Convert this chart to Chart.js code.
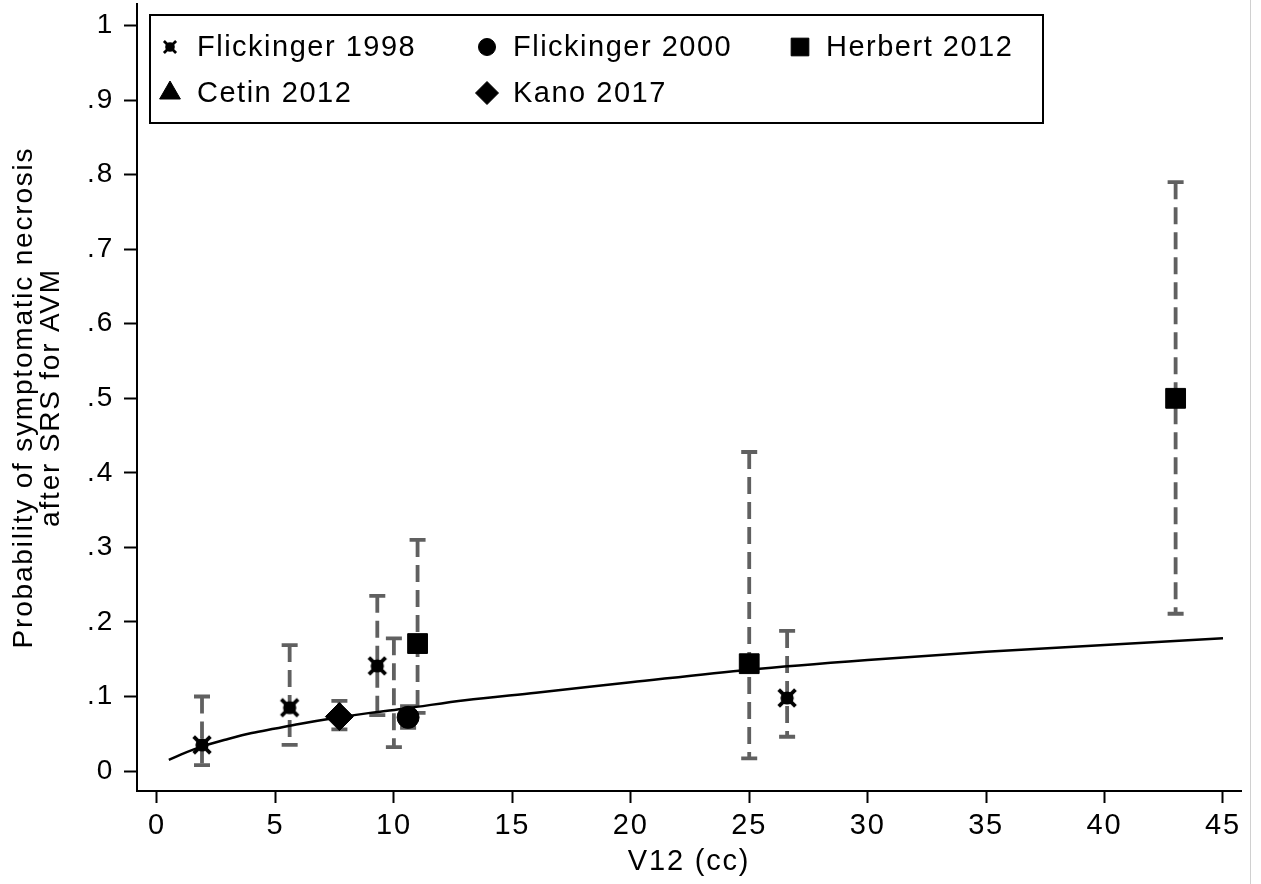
<!DOCTYPE html>
<html lang="en">
<head>
  <meta charset="UTF-8">
  <title>Symptomatic necrosis vs V12</title>
  <style>
    body { margin: 0; background: #fff; }
    .wrap { position: relative; width: 1261px; height: 884px; }
    .edge { position: absolute; left: 1250px; top: 0; width: 1px; height: 884px; background: #d0d0d0; }
  </style>
</head>
<body>
  <div class="wrap">
    <canvas id="chart" width="1261" height="884"></canvas>
    <div class="edge"></div>
  </div>

  <script src="https://cdn.jsdelivr.net/npm/chart.js"></script>
  <script>
    // series: V12 (cc), probability, CI low / high
    const seriesNames = ["Flickinger 1998", "Flickinger 2000", "Herbert 2012", "Cetin 2012", "Kano 2017"];

    const flick1998X = [1.9, 5.6, 9.3, 26.6];
    const flick1998Y = [0.035, 0.085, 0.141, 0.098];
    const flick1998Lo = [0.008, 0.035, 0.075, 0.046];
    const flick1998Hi = [0.100, 0.169, 0.235, 0.188];

    const flick2000X = [10.6];
    const flick2000Y = [0.072];
    const flick2000Lo = [0.058];
    const flick2000Hi = [0.087];

    const herbertX = [11.0, 25.0, 43.0];
    const herbertY = [0.171, 0.144, 0.500];
    const herbertLo = [0.078, 0.017, 0.211];
    const herbertHi = [0.310, 0.428, 0.790];

    const cetinX = [10.0];
    const cetinY = [0.080];
    const cetinLo = [0.032];
    const cetinHi = [0.178];

    const kanoX = [7.7];
    const kanoY = [0.073];
    const kanoLo = [0.056];
    const kanoHi = [0.094];

    // fitted curve
    const fitX = [0.5, 1, 2, 3, 4, 5, 6, 7.5, 9, 10.5, 13, 16, 20, 25, 30, 35, 40, 45];
    const fitY = [0.015, 0.022, 0.034, 0.043, 0.051, 0.057, 0.063, 0.071, 0.078, 0.084, 0.095, 0.105, 0.119, 0.136, 0.149, 0.160, 0.169, 0.178];

    const xTicks = [0, 5, 10, 15, 20, 25, 30, 35, 40, 45];
    const yTicks = [0, 0.1, 0.2, 0.3, 0.4, 0.5, 0.6, 0.7, 0.8, 0.9, 1];
    const yTickLabels = ["0", ".1", ".2", ".3", ".4", ".5", ".6", ".7", ".8", ".9", "1"];

    const FONT = "'Liberation Sans', Arial, sans-serif";
    const BAR = "#606060";
    const SPACING = "1.8px";

    function pts(xs, ys) {
      return xs.map((x, i) => ({ x: x, y: ys[i] }));
    }

    // stata-ish filled "x" marker
    function starMarker(size) {
      const c = document.createElement("canvas");
      c.width = size; c.height = size;
      const g = c.getContext("2d");
      const m = size / 2;
      g.fillStyle = "#000";
      g.strokeStyle = "#000";
      g.beginPath();
      g.arc(m, m, size * 0.3, 0, Math.PI * 2);
      g.fill();
      g.lineWidth = size * 0.17;
      g.beginPath();
      g.moveTo(size * 0.12, size * 0.12); g.lineTo(size * 0.88, size * 0.88);
      g.moveTo(size * 0.88, size * 0.12); g.lineTo(size * 0.12, size * 0.88);
      g.stroke();
      return c;
    }
    const starBig = starMarker(22);
    const starSmall = starMarker(16);

    const errBars = [
      [flick1998X, flick1998Lo, flick1998Hi],
      [flick2000X, flick2000Lo, flick2000Hi],
      [herbertX, herbertLo, herbertHi],
      [cetinX, cetinLo, cetinHi],
      [kanoX, kanoLo, kanoHi]
    ];

    const spacingPlugin = {
      id: "spacing",
      beforeLayout(chart) { chart.ctx.letterSpacing = SPACING; },
      beforeDraw(chart) { chart.ctx.letterSpacing = SPACING; }
    };

    const errorBarPlugin = {
      id: "errorBars",
      beforeDatasetsDraw(chart) {
        const ctx = chart.ctx;
        const sx = chart.scales.x, sy = chart.scales.y;
        ctx.save();
        ctx.strokeStyle = BAR;
        ctx.lineWidth = 3.8;
        errBars.forEach(function (b) {
          b[0].forEach(function (x, i) {
            const px = sx.getPixelForValue(x);
            const lo = sy.getPixelForValue(b[1][i]);
            const hi = sy.getPixelForValue(b[2][i]);
            ctx.setLineDash([17, 8]);
            ctx.beginPath();
            ctx.moveTo(px, hi); ctx.lineTo(px, lo);
            ctx.stroke();
            ctx.setLineDash([]);
            ctx.beginPath();
            ctx.moveTo(px - 8, hi); ctx.lineTo(px + 8, hi);
            ctx.moveTo(px - 8, lo); ctx.lineTo(px + 8, lo);
            ctx.stroke();
          });
        });
        ctx.restore();
      }
    };

    const legendStyles = [
      { pointStyle: starSmall, radius: 8 },
      { pointStyle: "circle", radius: 8.5 },
      { pointStyle: "rect", radius: 12.5 },
      { pointStyle: "triangle", radius: 12 },
      { pointStyle: "rectRot", radius: 11.5 }
    ];

    const boxLegendPlugin = {
      id: "boxLegend",
      afterDraw(chart) {
        const ctx = chart.ctx;
        const a = chart.chartArea;
        const bx = a.left + 13, by = a.top + 11, bw = 893, bh = 108;
        const markX = [20, 337, 650];
        const textX = [47, 363, 676];
        const rowY = [32, 78];
        ctx.save();
        ctx.fillStyle = "#fff";
        ctx.fillRect(bx, by, bw, bh);
        ctx.strokeStyle = "#000";
        ctx.lineWidth = 2;
        ctx.strokeRect(bx, by, bw, bh);
        ctx.font = "29px " + FONT;
        ctx.letterSpacing = "1.5px";
        ctx.textBaseline = "middle";
        seriesNames.forEach(function (name, i) {
          const col = i % 3, row = Math.floor(i / 3);
          const st = legendStyles[i];
          ctx.fillStyle = "#000";
          ctx.strokeStyle = "#000";
          ctx.lineWidth = 1;
          Chart.helpers.drawPoint(ctx, { pointStyle: st.pointStyle, radius: st.radius, rotation: 0, borderWidth: 1 },
            bx + markX[col], by + rowY[row]);
          ctx.fillStyle = "#000";
          ctx.fillText(name, bx + textX[col], by + rowY[row] + 1);
        });
        ctx.restore();
      }
    };

    const baseSet = { showLine: false, backgroundColor: "#000", borderColor: "#000", borderWidth: 1 };

    new Chart(document.getElementById("chart").getContext("2d"), {
      type: "scatter",
      data: {
        datasets: [
          Object.assign({ label: seriesNames[0], data: pts(flick1998X, flick1998Y), pointStyle: starBig, pointRadius: 11 }, baseSet),
          Object.assign({ label: seriesNames[1], data: pts(flick2000X, flick2000Y), pointStyle: "circle", pointRadius: 11 }, baseSet),
          Object.assign({ label: seriesNames[2], data: pts(herbertX, herbertY), pointStyle: "rect", pointRadius: 14 }, baseSet),
          Object.assign({ label: seriesNames[3], data: pts(cetinX, cetinY), pointStyle: "triangle", pointRadius: 0 }, baseSet),
          Object.assign({ label: seriesNames[4], data: pts(kanoX, kanoY), pointStyle: "rectRot", pointRadius: 14 }, baseSet),
          {
            label: "fit",
            type: "line",
            data: pts(fitX, fitY),
            showLine: true,
            borderColor: "#000",
            borderWidth: 2.5,
            pointRadius: 0,
            fill: false,
            cubicInterpolationMode: "monotone"
          }
        ]
      },
      options: {
        responsive: false,
        animation: false,
        devicePixelRatio: 1,
        layout: { autoPadding: false, padding: { top: 4, right: 20, left: 0, bottom: 0 } },
        plugins: { legend: { display: false }, tooltip: { enabled: false } },
        scales: {
          x: {
            type: "linear",
            min: -0.844,
            max: 45.76,
            afterBuildTicks: function (s) { s.ticks = xTicks.map(v => ({ value: v })); },
            afterFit: function (s) { s.height = 93; s.paddingLeft = 0; s.paddingRight = 0; },
            border: { display: true, color: "#000", width: 2 },
            grid: { drawOnChartArea: false, drawTicks: true, tickLength: 12, tickWidth: 2, tickColor: "#000" },
            ticks: { color: "#000", font: { family: FONT, size: 29 }, padding: 6, maxRotation: 0 },
            title: { display: true, text: "V12 (cc)", color: "#000", font: { family: FONT, size: 29 }, padding: { bottom: 5 } }
          },
          y: {
            type: "linear",
            min: -0.0268,
            max: 1.029,
            afterBuildTicks: function (s) { s.ticks = yTicks.map(v => ({ value: v })); },
            afterFit: function (s) { s.width = 137; s.paddingTop = 0; s.paddingBottom = 0; },
            border: { display: true, color: "#000", width: 2 },
            grid: { drawOnChartArea: false, drawTicks: true, tickLength: 13, tickWidth: 2, tickColor: "#000" },
            ticks: {
              color: "#000",
              font: { family: FONT, size: 28 },
              padding: 10,
              callback: function (v) {
                const i = yTicks.findIndex(t => Math.abs(t - v) < 1e-9);
                return i >= 0 ? yTickLabels[i] : "";
              }
            },
            title: {
              display: true,
              text: ["Probability of symptomatic necrosis", "after SRS for AVM"],
              color: "#000",
              font: { family: FONT, size: 28, lineHeight: 0.965 },
              padding: { top: 11 }
            }
          }
        }
      },
      plugins: [spacingPlugin, errorBarPlugin, boxLegendPlugin]
    });
  </script>
</body>
</html>
